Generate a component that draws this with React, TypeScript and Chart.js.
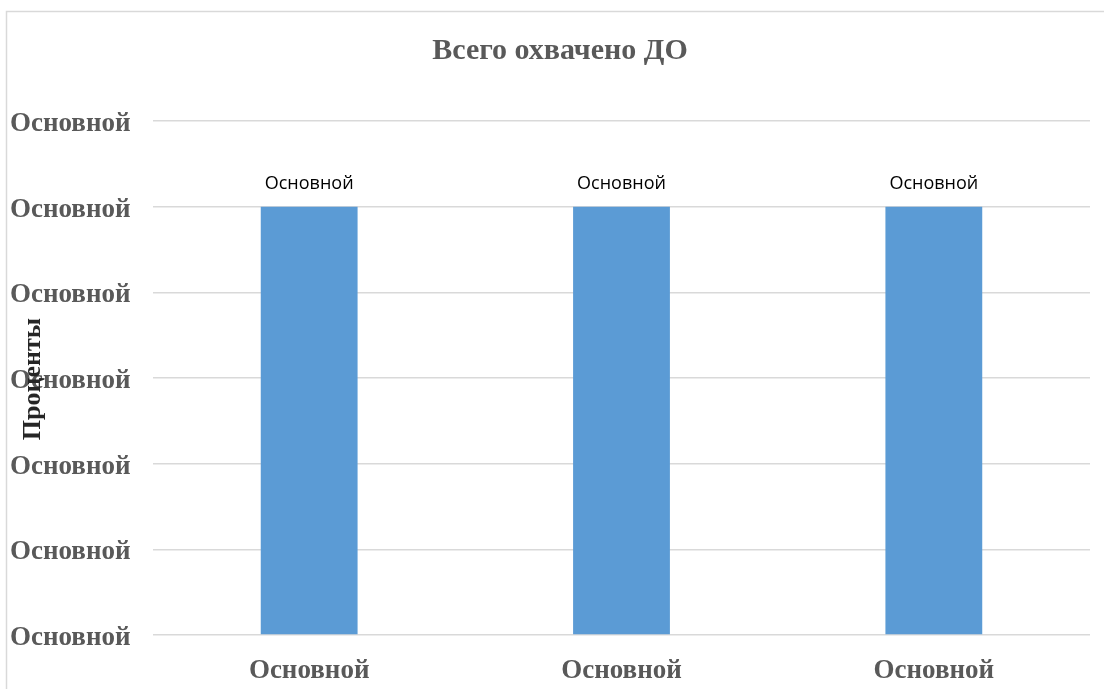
import React, { useEffect, useRef } from "react";
import { Chart, registerables } from "chart.js";

Chart.register(...registerables);

const titleText = "Всего охвачено ДО";
const yAxisTitle = "Проценты";
const categories = ["Основной", "Основной", "Основной"];
const values = [100, 100, 100];
const dataLabels = ["Основной", "Основной", "Основной"];
const yTickLabel = "Основной";
const yMin = 0;
const yMax = 120;
const yStep = 20;

const SERIF = "'Liberation Serif', 'Times New Roman', serif";

const decorPlugin = {
  id: "decor",
  beforeDraw(chart: any) {
    const ctx = chart.ctx;
    ctx.save();
    ctx.strokeStyle = "#d9d9d9";
    ctx.lineWidth = 1.5;
    ctx.strokeRect(6.5, 11.5, 1300, 900);
    ctx.restore();
  },
  afterDraw(chart: any) {
    const ctx = chart.ctx;
    ctx.save();
    // title
    ctx.fillStyle = "#595959";
    ctx.font = `bold 30px ${SERIF}`;
    ctx.textAlign = "center";
    ctx.textBaseline = "middle";
    ctx.fillText(titleText, 560, 51);
    // y title
    ctx.translate(33, 379);
    ctx.rotate(-Math.PI / 2);
    ctx.fillStyle = "#262626";
    ctx.font = `bold 26px ${SERIF}`;
    ctx.fillText(yAxisTitle, 0, 0);
    ctx.restore();

    // data labels
    const meta = chart.getDatasetMeta(0);
    ctx.save();
    ctx.fillStyle = "#000000";
    ctx.font = "18px 'Open Sans', sans-serif";
    ctx.textAlign = "center";
    ctx.textBaseline = "middle";
    meta.data.forEach((bar: any, i: number) => {
      ctx.fillText(dataLabels[i], bar.x, bar.y - 23);
    });
    ctx.restore();
  },
};

export default function App() {
  const ref = useRef<HTMLCanvasElement>(null);
  useEffect(() => {
    if (!ref.current) return;
    const chart = new Chart(ref.current, {
      type: "bar",
      data: {
        labels: categories,
        datasets: [
          {
            data: values,
            backgroundColor: "#5b9bd5",
            barPercentage: 1,
            categoryPercentage: 0.31,
          },
        ],
      },
      options: {
        animation: false,
        responsive: false,
        devicePixelRatio: 1,
        layout: { padding: { left: 10, right: 14, top: 121, bottom: 0 } },
        plugins: {
          legend: { display: false },
          title: { display: false },
          tooltip: { enabled: false },
        },
        scales: {
          x: {
            grid: { display: false },
            border: { display: false },
            ticks: {
              color: "#595959",
              font: { family: SERIF, size: 27, weight: "bold" },
              padding: 12,
              maxRotation: 0,
            },
            afterFit(scale: any) {
              scale.height = 54;
            },
          },
          y: {
            min: yMin,
            max: yMax,
            border: { display: false },
            grid: { color: "#d9d9d9", lineWidth: 1.5, drawTicks: false },
            ticks: {
              stepSize: yStep,
              color: "#595959",
              font: { family: SERIF, size: 27, weight: "bold" },
              crossAlign: "far",
              padding: 20,
              labelOffset: 3,
              callback: () => yTickLabel,
            },
            afterFit(scale: any) {
              scale.width = 143;
            },
          },
        },
      },
      plugins: [decorPlugin],
    });
    return () => chart.destroy();
  }, []);
  return (
    <div style={{ position: "fixed", left: 0, top: 0, width: 1104, height: 689, background: "#fff" }}>
      <canvas ref={ref} width={1104} height={689} style={{ display: "block" }} />
    </div>
  );
}
